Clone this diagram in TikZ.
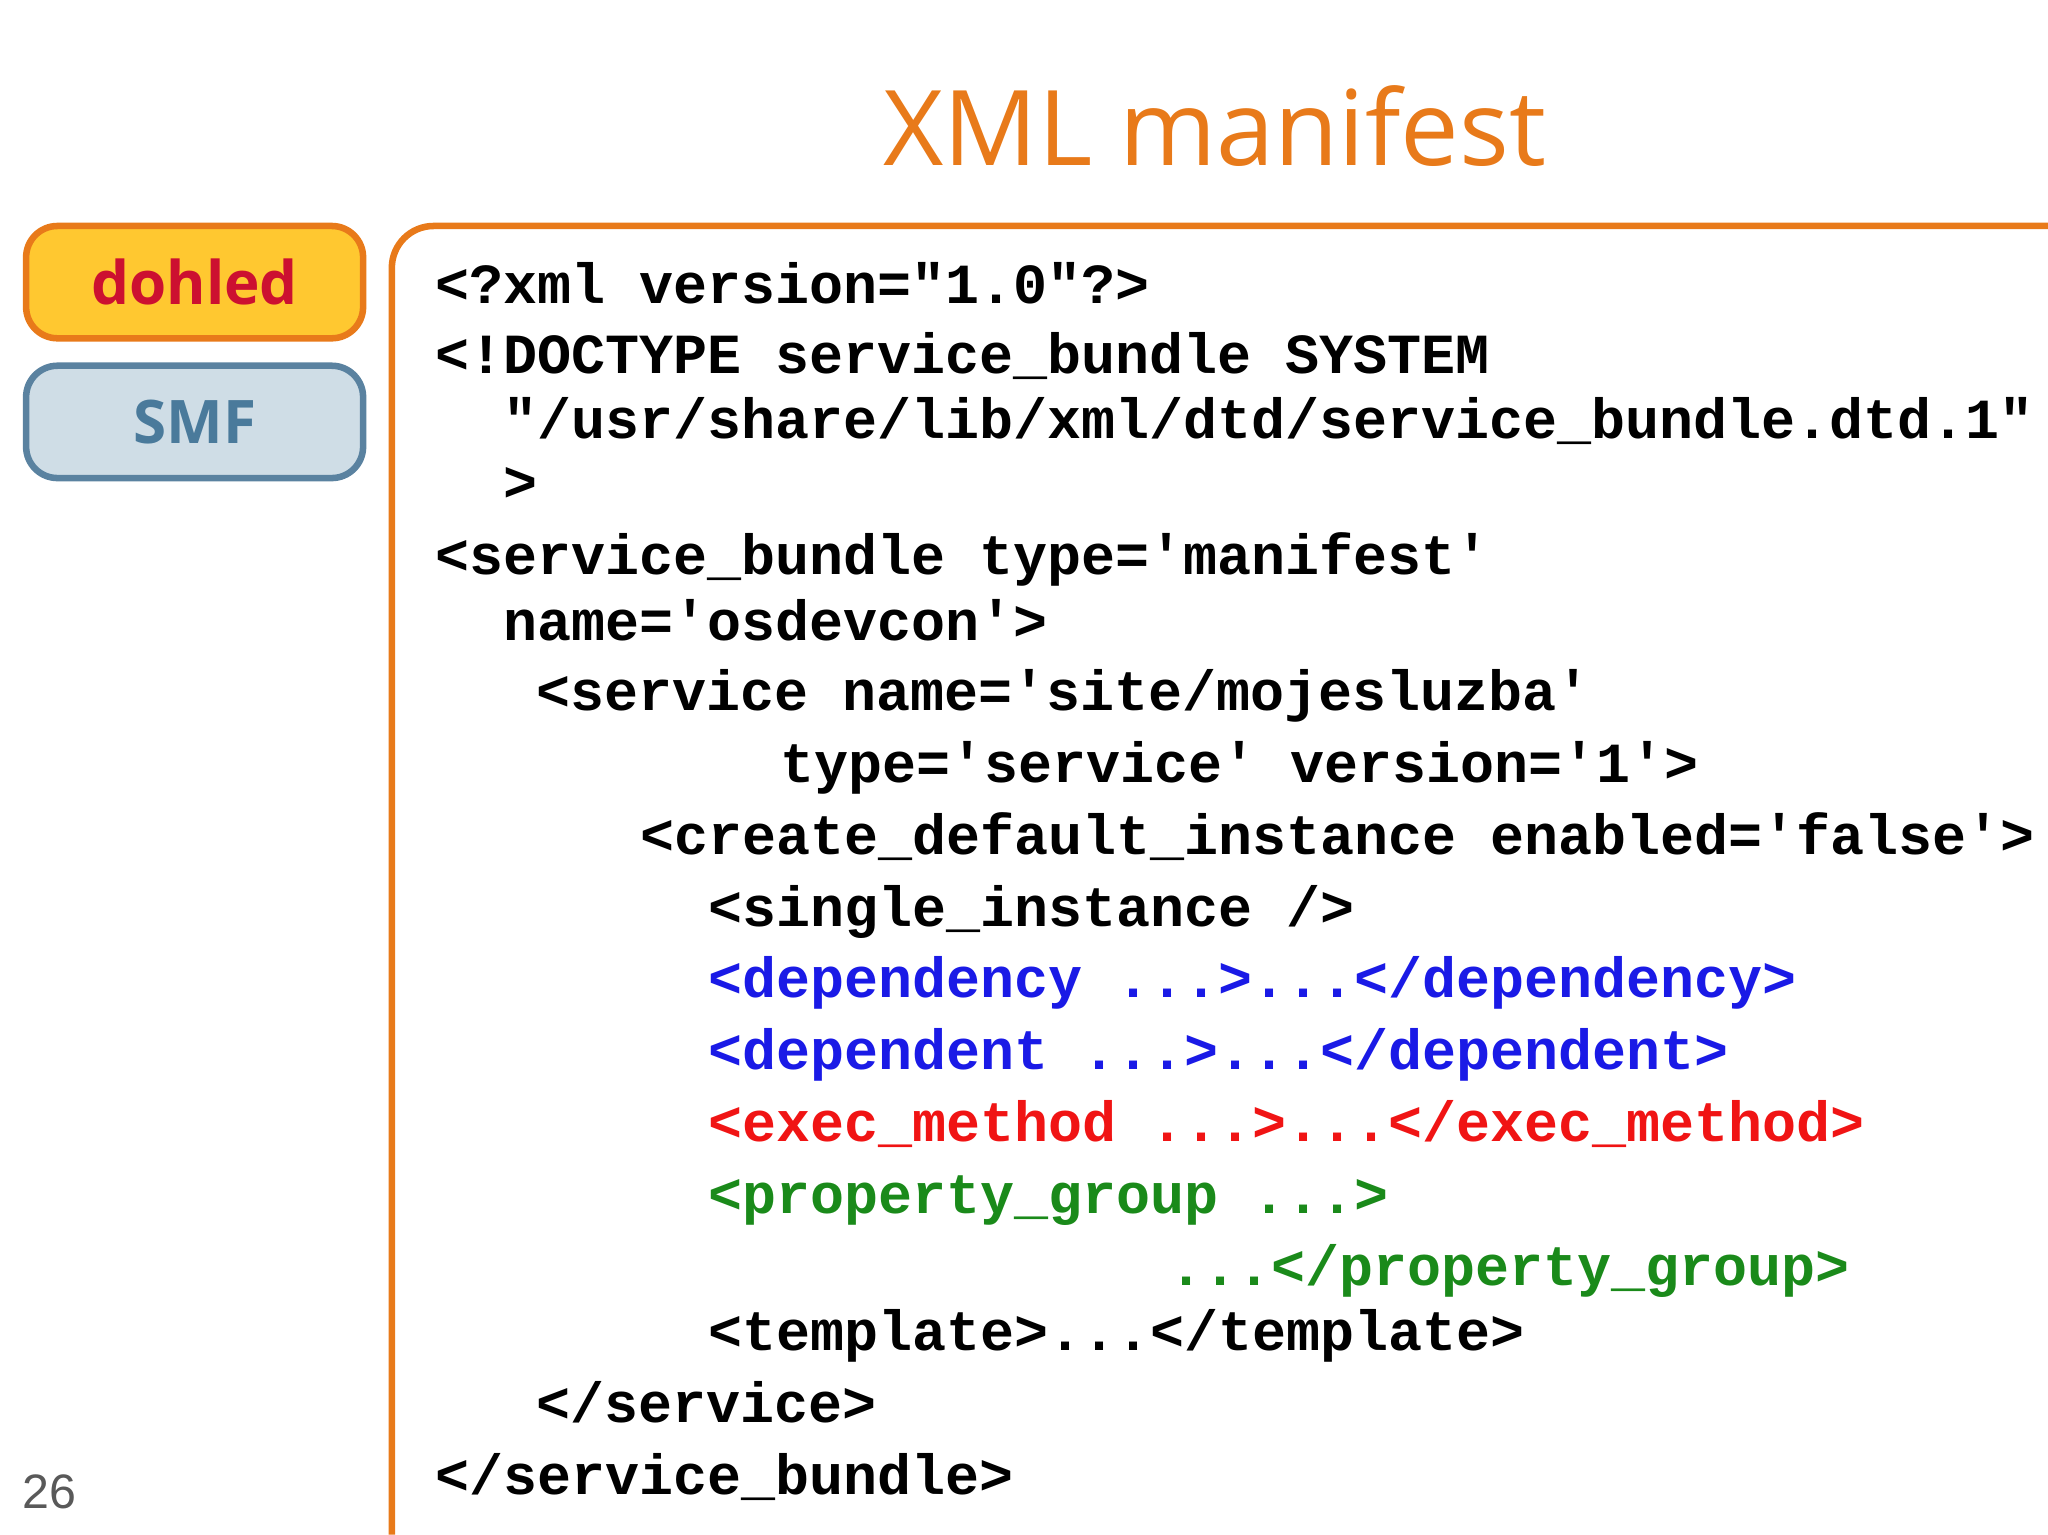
\documentclass[tikz,border=0pt]{standalone}
\usepackage{fontspec}
\setmainfont{Liberation Sans}
\setmonofont{Liberation Mono}
\newfontfamily\titlefont{Open Sans}
\definecolor{orng}{HTML}{E87A1A}
\definecolor{cblue}{HTML}{1A1AE6}
\definecolor{cred}{HTML}{F01414}
\definecolor{cgreen}{HTML}{1A8A1A}
\definecolor{yfill}{HTML}{FFC830}
\definecolor{dred}{HTML}{CC1030}
\definecolor{sfill}{HTML}{CFDDE6}
\definecolor{sdraw}{HTML}{5A82A0}
\definecolor{stext}{HTML}{4A7A9B}
\begin{document}
\begin{tikzpicture}[x=0.5pt,y=-0.5pt,
 code/.style={anchor=base west,inner sep=0,font=\fontsize{21.7}{24}\ttfamily\bfseries},
 tab/.style={rounded corners=12pt,line width=2.5pt,minimum width=129pt,minimum height=43pt,font=\titlefont\fontsize{23}{28}\selectfont\bfseries}]
\useasboundingbox (0,0) rectangle (1568,1175);
\node[anchor=base,text=orng,font=\titlefont\fontsize{40}{48}\selectfont] (title) at (930,127) {XML manifest};
\node[tab,draw=orng,fill=yfill,text=dred] (dohled) at (149,216) {dohled};
\node[tab,draw=sdraw,fill=sfill,text=stext] (smf) at (149,323) {SMF};
\draw[orng,line width=2.5pt,rounded corners=16pt] (300,1175) -- (300,173) -- (1568,173);
\node[anchor=base west,text=gray!70!black,font=\fontsize{18.5}{20}\selectfont] (pg) at (10,1155) {26};
\node[code] (l1) at (333,232) {<?xml version="1.0"?>};
\node[code] (l2) at (333,286) {<!DOCTYPE service\_bundle SYSTEM};
\node[code] (l3) at (385,336) {"/usr/share/lib/xml/dtd/service\_bundle.dtd.1"};
\node[code] (l4) at (385,384) {>};
\node[code] (l5) at (333,440) {<service\_bundle type='manifest'};
\node[code] (l6) at (385,490) {name='osdevcon'>};
\node[code] (l7) at (410,544) {<service name='site/mojesluzba'};
\node[code] (l8) at (597,599) {type='service' version='1'>};
\node[code] (l9) at (490,654) {<create\_default\_instance enabled='false'>};
\node[code] (l10) at (542,709) {<single\_instance />};
\node[code,text=cblue] (l11) at (542,764) {<dependency ...>...</dependency>};
\node[code,text=cblue] (l12) at (542,819) {<dependent ...>...</dependent>};
\node[code,text=cred] (l13) at (542,874) {<exec\_method ...>...</exec\_method>};
\node[code,text=cgreen] (l14) at (542,929) {<property\_group ...>};
\node[code,text=cgreen] (l15) at (895,984) {...</property\_group>};
\node[code] (l16) at (542,1034) {<template>...</template>};
\node[code] (l17) at (410,1089) {</service>};
\node[code] (l18) at (333,1144) {</service\_bundle>};
\end{tikzpicture}
\end{document}
